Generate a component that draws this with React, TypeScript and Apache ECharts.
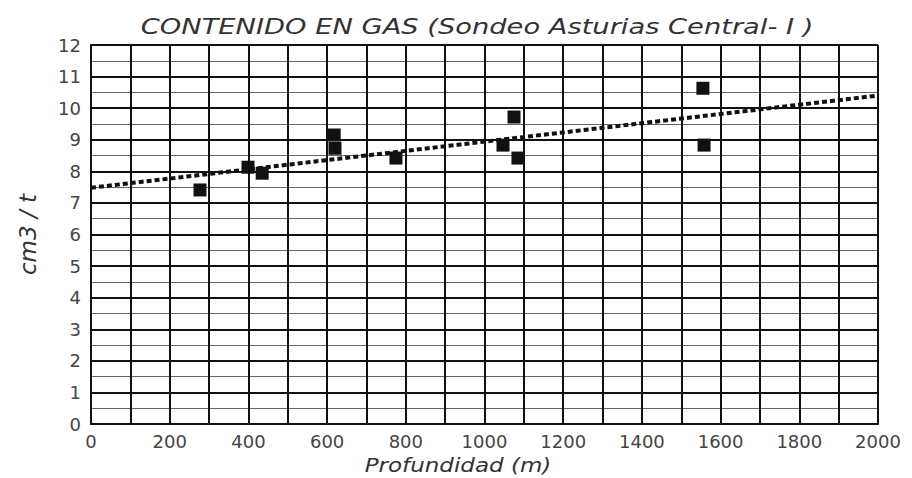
import React, { useEffect, useRef } from "react";
import * as echarts from "echarts";

const title = "CONTENIDO EN GAS (Sondeo Asturias Central- I )";
const xAxisName = "Profundidad (m)";
const yAxisName = "cm3 / t";

const depths = [277, 399, 435, 618, 620, 775, 1047, 1075, 1085, 1555, 1558];
const gasContent = [7.41, 8.13, 7.94, 9.15, 8.73, 8.42, 8.83, 9.72, 8.42, 10.63, 8.83];

const trendX = [0, 2000];
const trendY = [7.48, 10.4];

export default function App() {
  const ref = useRef<HTMLDivElement>(null);
  useEffect(() => {
    if (!ref.current) return;
    const chart = echarts.init(ref.current, undefined, { renderer: "svg" });
    const font = "DejaVu Sans";
    chart.setOption({
      animation: false,
      backgroundColor: "#ffffff",
      graphic: [
        {
          type: "text",
          x: 477,
          y: 27,
          scaleX: 1.3,
          style: {
            text: title,
            align: "center",
            verticalAlign: "middle",
            fontFamily: font,
            fontStyle: "italic",
            fontSize: 21,
            fill: "#333",
          },
        },
        {
          type: "text",
          x: 458,
          y: 465,
          scaleX: 1.15,
          style: {
            text: xAxisName,
            align: "center",
            verticalAlign: "middle",
            fontFamily: font,
            fontStyle: "italic",
            fontSize: 20,
            fill: "#333",
          },
        },
      ],
      grid: { left: 91, right: 34, top: 45, bottom: 54, outerBoundsMode: "none" },
      xAxis: {
        type: "value",
        min: 0,
        max: 2000,
        interval: 100,
        axisLine: { show: true, lineStyle: { color: "#111", width: 2 } },
        axisTick: { show: false },
        axisLabel: {
          fontFamily: font,
          fontSize: 18,
          color: "#444",
          margin: 8,
          formatter: (v: number) => (v % 200 === 0 ? String(v) : ""),
        },
        splitLine: { show: true, lineStyle: { color: "#111", width: 2 } },
      },
      yAxis: {
        type: "value",
        min: 0,
        max: 12,
        interval: 1,
        name: yAxisName,
        nameLocation: "middle",
        nameGap: 52,
        nameTextStyle: {
          fontFamily: font,
          fontStyle: "italic",
          fontSize: 23,
          color: "#333",
        },
        axisLine: { show: true, lineStyle: { color: "#111", width: 2 } },
        axisTick: { show: false },
        axisLabel: {
          fontFamily: font,
          fontSize: 18,
          color: "#444",
          margin: 10,
        },
        splitLine: { show: true, lineStyle: { color: "#111", width: 2 } },
        minorTick: { show: false, splitNumber: 2 },
        minorSplitLine: { show: true, lineStyle: { color: "#666", width: 1 } },
      },
      series: [
        {
          type: "line",
          data: trendX.map((x, i) => [x, trendY[i]]),
          showSymbol: false,
          symbol: "none",
          lineStyle: { color: "#111", width: 4, type: [5, 3] },
          z: 3,
        },
        {
          type: "scatter",
          data: depths.map((d, i) => [d, gasContent[i]]),
          symbol: "rect",
          symbolSize: 13,
          itemStyle: { color: "#111", opacity: 1 },
          z: 4,
        },
      ],
    });
    return () => chart.dispose();
  }, []);
  return (
    <div
      ref={ref}
      style={{ position: "fixed", left: 0, top: 0, width: 912, height: 478 }}
    />
  );
}
